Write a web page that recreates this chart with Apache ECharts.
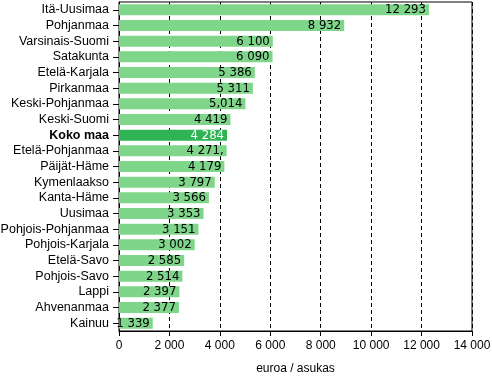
<!DOCTYPE html>
<html><head><meta charset="utf-8">
<script src="https://cdn.jsdelivr.net/npm/echarts@6/dist/echarts.min.js"></script>
<style>html,body{margin:0;padding:0;background:#fff}#c{width:492px;height:378px}</style>
</head><body><div id="c"></div>
<script>
const categories = ["Itä-Uusimaa","Pohjanmaa","Varsinais-Suomi","Satakunta","Etelä-Karjala","Pirkanmaa","Keski-Pohjanmaa","Keski-Suomi","Koko maa","Etelä-Pohjanmaa","Päijät-Häme","Kymenlaakso","Kanta-Häme","Uusimaa","Pohjois-Pohjanmaa","Pohjois-Karjala","Etelä-Savo","Pohjois-Savo","Lappi","Ahvenanmaa","Kainuu"];
const values = [12293,8932,6100,6090,5386,5311,5014,4419,4284,4271,4179,3797,3566,3353,3151,3002,2585,2514,2397,2377,1339];
const valueLabels = ["12 293","8 932","6 100","6 090","5 386","5 311","5,014","4 419","4 284","4 271,","4 179","3 797","3 566","3 353","3 151","3 002","2 585","2 514","2 397","2 377","1 339"];
const xTicks = [0,2000,4000,6000,8000,10000,12000,14000];
const highlight = "Koko maa";

const font = "'Liberation Sans', Arial, sans-serif";
const narrow = "'Liberation Sans Narrow', 'DejaVu Sans Condensed', sans-serif";
const chart = echarts.init(document.getElementById('c'));
chart.setOption({
  backgroundColor: '#ffffff',
  animation: false,
  grid: { left: 119, right: 20, top: 2, bottom: 47, show: true, borderColor: '#000', borderWidth: 1, outerBoundsMode: 'none', containLabel: false },
  xAxis: {
    type: 'value', min: 0, max: 14000, interval: 2000,
    name: 'euroa / asukas', nameLocation: 'middle', nameGap: 32,
    nameTextStyle: { fontFamily: font, fontSize: 12, color: '#000' },
    axisLine: { show: true, lineStyle: { color: '#000' } },
    axisTick: { show: true, length: 5, lineStyle: { color: '#000' } },
    axisLabel: { fontFamily: font, fontSize: 12, color: '#000', margin: 9,
      formatter: v => v.toLocaleString('en-US').replace(/,/g, ' ') },
    splitLine: { show: true, lineStyle: { color: '#000', type: [4, 3], width: 1 } }
  },
  yAxis: {
    type: 'category', data: categories, inverse: true,
    axisLine: { show: true, lineStyle: { color: '#000' } },
    axisTick: { show: true, alignWithLabel: true, interval: 0, length: 6, lineStyle: { color: '#000' } },
    axisLabel: { interval: 0, fontFamily: font, fontSize: 12.5, color: '#000', margin: 10,
      formatter: v => v === highlight ? '{b|' + v + '}' : v,
      rich: { b: { fontWeight: 'bold', fontFamily: font, fontSize: 12.5, color: '#000' } } },
    splitLine: { show: false }
  },
  series: [{
    type: 'bar', barWidth: 11,
    data: values.map((v, i) => ({
      value: v,
      itemStyle: { color: categories[i] === highlight ? '#2eb355' : '#7fd68a' },
      label: { color: categories[i] === highlight ? '#fff' : '#000' }
    })),
    label: { show: true, position: 'insideRight', distance: 3, fontFamily: narrow, fontSize: 13,
      formatter: p => valueLabels[p.dataIndex] }
  }]
});
</script></body></html>
